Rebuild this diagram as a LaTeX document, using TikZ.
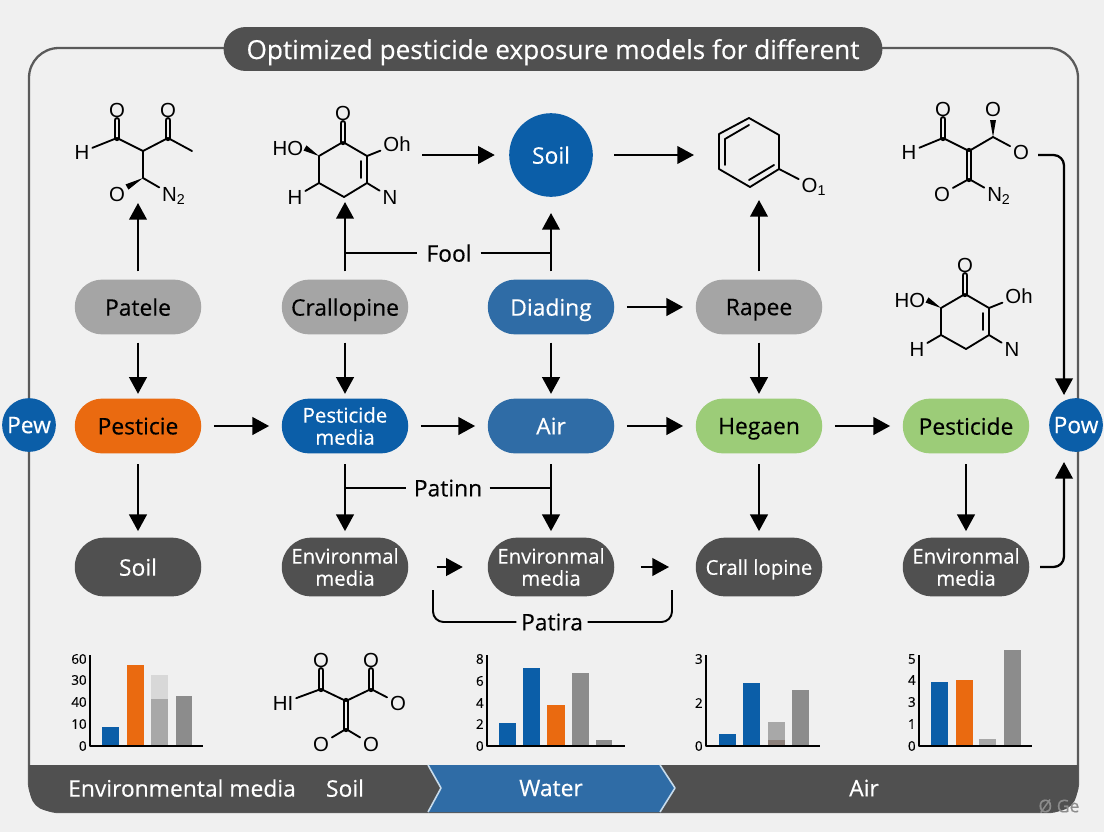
\documentclass[tikz,border=0pt]{standalone}
\usepackage{fontspec}
\setmainfont{Open Sans}[FakeBold=0.35]
\newfontfamily\atomfont{Liberation Sans}
\usetikzlibrary{calc,arrows.meta}
\definecolor{pagefill}{RGB}{240,240,240}
\definecolor{darkfill}{RGB}{80,80,80}
\definecolor{framecol}{RGB}{90,90,90}
\definecolor{bluefill}{RGB}{11,94,168}
\definecolor{midblue}{RGB}{47,108,166}
\definecolor{orangefill}{RGB}{234,106,16}
\definecolor{greenfill}{RGB}{156,204,120}
\definecolor{grayfill}{RGB}{165,165,165}
\definecolor{barmid}{RGB}{140,140,140}
\definecolor{barlight}{RGB}{168,168,168}
\definecolor{barpale}{RGB}{216,216,216}
\definecolor{barbrown}{RGB}{140,128,122}
\definecolor{edgeblue}{RGB}{200,220,236}
\tikzset{
    lab/.style={font=\fontsize{13}{15}\selectfont, text depth=0pt},
    atom/.style={font=\atomfont\fontsize{11.6}{13}\selectfont, inner sep=1.5pt},
    tick/.style={font=\fontsize{7.6}{9}\selectfont, anchor=east, inner sep=0pt},
    bond/.style={line width=1.05pt, line cap=round},
    dbl/.style={bond, double=pagefill, double distance=1.5pt},
    arr/.style={-{Triangle[length=9.5pt,width=10pt]}, line width=1.3pt},
    plain/.style={line width=1.1pt},
    gap/.style 2 args={shorten <=#1, shorten >=#2}
}
\newcommand{\wdgbond}[2]{\fill ($(#2)!1.7pt!90:(#1)$) -- ($(#2)!1.7pt!-90:(#1)$) -- (#1) -- cycle;}
% ring molecule, used twice
\newcommand{\ringmol}[3]{
  \begin{scope}[shift={(#2,#3)}, name prefix=#1]
    \coordinate (ca) at (343,142);
    \coordinate (cb) at (319,156);
    \coordinate (cc) at (319,183);
    \coordinate (cd) at (344,197);
    \coordinate (ce) at (367,183);
    \coordinate (cf) at (367,156);
    \coordinate (wd) at (305,148);
    \node[atom] (oa) at (343,113) {O};
    \node[atom] (ho) at (288,148) {HO};
    \node[atom] (oh) at (397,144) {Oh};
    \node[atom] (hh) at (295,197) {H};
    \node[atom] (nn) at (390,197) {N};
    \draw[dbl] (ca) -- (oa);
    \draw[bond] (ca) -- (cb) -- (cc) -- (cd) -- (ce) -- (cf) -- (ca);
    \draw[bond] (361,161) -- (361,178);
    \draw[bond] (cf) -- (oh);
    \draw[bond] (cc) -- (hh);
    \draw[bond] (ce) -- (nn);
    \wdgbond{cb}{wd}
  \end{scope}
}

\begin{document}
\begin{tikzpicture}[x=0.02cm,y=-0.02cm, line join=round]

% background
\fill[pagefill] (0,0) rectangle (1104,832);
\useasboundingbox (0,0) rectangle (1104,832);
\draw[framecol, line width=1.3pt, rounded corners=17pt] (29,48) rectangle (1078,812);

% title
\node[fill=darkfill, text=white, rounded corners=12.5pt, minimum width=375pt, minimum height=25pt, inner sep=0pt, text depth=0pt, font=\fontsize{14.9}{18}\selectfont] (title) at (553,49) {Optimized pesticide exposure models for different};

% bottom band
\fill[darkfill] (428,765) -- (29,765) -- (29,782) .. controls (29,804) and (37,812) .. (59,812) -- (428,812) -- (441,788) -- cycle;
\fill[midblue] (428,765) -- (660,765) -- (675,788) -- (660,812) -- (428,812) -- (441,788) -- cycle;
\fill[darkfill] (660,765) -- (1078,765) -- (1078,782) .. controls (1078,804) and (1070,812) .. (1048,812) -- (660,812) -- (675,788) -- cycle;
\draw[edgeblue, line width=0.9pt] (428,765) -- (441,788) -- (428,812);
\draw[edgeblue, line width=0.9pt] (660,765) -- (675,788) -- (660,812);
\node[lab, text=white] (bandenv) at (182,788) {Environmental media};
\node[lab, text=white] (bandsoil) at (345,788) {Soil};
\node[lab, text=white] (bandwater) at (551,788) {Water};
\node[lab, text=white] (bandair) at (864,788) {Air};
\node[text=barmid, font=\fontsize{10}{12}\selectfont] (mark) at (1059,806) {Ø Ge};

\tikzset{
  pill/.style={lab, rounded corners=15.6pt, minimum width=72pt, minimum height=31.2pt, inner sep=0pt, align=center},
  pillb/.style={pill, rounded corners=16.7pt, minimum height=33.4pt, fill=darkfill, text=white},
  twoline/.style={text depth=, font=\fontsize{11.6}{12.6}\selectfont},
  dot/.style={circle, fill=bluefill, text=white, inner sep=0pt, lab},
}

% nodes, upper row
\node[pill, fill=grayfill] (patele) at (138,307) {Patele};
\node[pill, fill=grayfill] (crall) at (345,307) {Crallopine};
\node[pill, fill=midblue, text=white] (diading) at (551,307) {Diading};
\node[pill, fill=grayfill] (rapee) at (759,307) {Rapee};

% nodes, middle row
\node[dot, minimum size=30.6pt] (pew) at (29,425) {Pew};
\node[pill, fill=orangefill] (pesticie) at (138,426) {Pesticie};
\node[pill, twoline, fill=bluefill, text=white] (pestmedia) at (345,426) {Pesticide\\media};
\node[pill, fill=midblue, text=white] (air) at (551,426) {Air};
\node[pill, fill=greenfill] (hegaen) at (759,426) {Hegaen};
\node[pill, fill=greenfill] (pestgreen) at (966,426) {Pesticide};
\node[dot, minimum size=30.6pt] (pow) at (1076,425) {Pow};

% nodes, lower row
\node[pillb] (soilb) at (138,567) {Soil};
\node[pillb, twoline] (enva) at (345,567) {Environmal\\media};
\node[pillb, twoline] (envb) at (551,567) {Environmal\\media};
\node[pillb, font=\fontsize{11.6}{13}\selectfont] (crallb) at (759,567) {Crall lopine};
\node[pillb, twoline] (envc) at (966,567) {Environmal\\media};

\node[dot, minimum size=47.6pt] (soil) at (551,155) {Soil};

% molecule, top left
\coordinate (ac) at (143,151);
\coordinate (ad) at (117,138);
\coordinate (ae) at (168,138);
\coordinate (af) at (192,151);
\coordinate (ag) at (143,178);
\coordinate (aw) at (127,187);
\node[atom] (ah) at (82,152) {H};
\node[atom] (ao) at (117,110) {O};
\node[atom] (ap) at (168,110) {O};
\node[atom] (aq) at (117,194) {O};
\node[atom] (an) at (174,196) {N\textsubscript{2}};
\draw[dbl] (ad) -- (ao);
\draw[dbl] (ae) -- (ap);
\draw[bond] (ah) -- (ad) -- (ac) -- (ae) -- (af);
\draw[bond] (ac) -- (ag) -- (an);
\wdgbond{ag}{aw}

% ring molecules
\ringmol{ra}{0}{0}
\ringmol{rb}{622}{152}

% benzene
\coordinate (ba) at (749,118);
\coordinate (bb) at (779,135);
\coordinate (bc) at (779,169);
\coordinate (bd) at (750,187);
\coordinate (be) at (719,169);
\coordinate (bf) at (719,134);
\node[atom] (bo) at (814,187) {O\textsubscript{1}};
\draw[bond] (ba) -- (bb) -- (bc) -- (bd) -- (be) -- (bf) -- cycle;
\draw[bond] (725,165) -- (725,139);
\draw[bond] (725,139) -- (749,125);
\draw[bond] (749,180) -- (774,165);
\draw[bond] (bc) -- (bo);

% molecule, top right
\coordinate (dc) at (969,151);
\coordinate (dd) at (943,138);
\coordinate (de) at (993,137);
\coordinate (df) at (969,179);
\coordinate (dw) at (993,120);
\node[atom] (dh) at (909,152) {H};
\node[atom] (do) at (943,109) {O};
\node[atom] (dp) at (993,109) {O};
\node[atom] (dq) at (1021,152) {O};
\node[atom] (dr) at (942,194) {O};
\node[atom] (dn) at (999,196) {N\textsubscript{2}};
\draw[dbl] (dd) -- (do);
\draw[dbl] (dc) -- (df);
\draw[bond] (dh) -- (dd) -- (dc) -- (de) -- (dq);
\draw[bond] (dr) -- (df) -- (dn);
\wdgbond{de}{dw}

% molecule, bottom
\coordinate (ec) at (346,701);
\coordinate (ed) at (321,689);
\coordinate (ee) at (371,689);
\coordinate (ef) at (346,729);
\node[atom] (eh) at (283,703) {HI};
\node[atom] (eo) at (321,660) {O};
\node[atom] (ep) at (371,660) {O};
\node[atom] (eq) at (398,703) {O};
\node[atom] (er) at (321,744) {O};
\node[atom] (es) at (371,744) {O};
\draw[dbl] (ed) -- (eo);
\draw[dbl] (ee) -- (ep);
\draw[dbl] (ec) -- (ef);
\draw[bond] (eh) -- (ed) -- (ec) -- (ee) -- (eq);
\draw[bond] (er) -- (ef) -- (es);

% free ends
\coordinate (pateleup) at (138,203);
\coordinate (crallup) at (345,202);
\coordinate (rapeeup) at (759,200);
\coordinate (ringout) at (422,155);
\coordinate (benzin) at (694,155);
\coordinate (diadup) at (551,213);
\coordinate (foolL) at (345,253);
\coordinate (foolR) at (551,253);
\coordinate (patL) at (345,488);
\coordinate (patR) at (551,488);
\coordinate (patiraL) at (433,590);
\coordinate (patiraR) at (672,590);
\coordinate (dout) at (1038,155);
\coordinate (powtop) at (1064,395);
\coordinate (powbot) at (1064,462);

% arrows up
\draw[arr, gap={4.5pt}{0pt}] (patele) -- (pateleup);
\draw[arr, gap={4.5pt}{0pt}] (crall) -- (crallup);
\draw[arr, gap={4.5pt}{0pt}] (diading) -- (diadup);
\draw[arr, gap={4.5pt}{0pt}] (rapee) -- (rapeeup);

% top lane
\draw[arr, gap={0pt}{8pt}] (ringout) -- (soil);
\draw[arr, gap={12pt}{0pt}] (soil) -- (benzin);
\draw[arr, gap={7pt}{7pt}] (diading) -- (rapee);

% upper row to middle row
\draw[arr, gap={4.5pt}{2.5pt}] (patele) -- (pesticie);
\draw[arr, gap={4.5pt}{2.5pt}] (crall) -- (pestmedia);
\draw[arr, gap={4.5pt}{2.5pt}] (diading) -- (air);
\draw[arr, gap={4.5pt}{2.5pt}] (rapee) -- (hegaen);

% middle lane
\draw[arr, gap={7pt}{7pt}] (pesticie) -- (pestmedia);
\draw[arr, gap={7pt}{7pt}] (pestmedia) -- (air);
\draw[arr, gap={7pt}{7pt}] (air) -- (hegaen);
\draw[arr, gap={7pt}{7pt}] (hegaen) -- (pestgreen);

% middle row to lower row
\draw[arr, gap={6pt}{3.5pt}] (pesticie) -- (soilb);
\draw[arr, gap={6pt}{3.5pt}] (pestmedia) -- (enva);
\draw[arr, gap={6pt}{3.5pt}] (air) -- (envb);
\draw[arr, gap={6pt}{3.5pt}] (hegaen) -- (crallb);
\draw[arr, gap={6pt}{3.5pt}] (pestgreen) -- (envc);

% lower lane
\draw[arr, gap={16pt}{14pt}] (enva) -- (envb);
\draw[arr, gap={15pt}{15pt}] (envb) -- (crallb);

% labelled links
\node[lab, inner sep=5pt] (fool) at (449,253) {Fool};
\node[lab, inner sep=4pt] (patinn) at (448,488) {Patinn};
\node[lab, inner sep=2.5pt] (patira) at (552,622) {Patira};
\draw[plain] (foolL) -- (fool);
\draw[plain] (fool) -- (foolR);
\draw[plain] (patL) -- (patinn);
\draw[plain] (patinn) -- (patR);
\draw[plain, rounded corners=6pt] (patiraL) |- (patira);
\draw[plain, rounded corners=6pt] (patira) -| (patiraR);

% right side
\draw[arr, rounded corners=6pt] (dout) -| (powtop);
\draw[arr, rounded corners=6pt, gap={6pt}{0pt}] (envc.east) -| (powbot);

% bars, first chart
\foreach \xa/\xb/\ytop/\barcol in {102/119/727/bluefill, 127/144/665/orangefill, 151/168/675/barpale, 151/168/699/barlight, 176/192/696/barmid}
  \fill[\barcol] (\xa,746) rectangle (\xb,\ytop);
\draw[line width=0.8pt] (90,655) -- (90,746) -- (203,746);
\foreach \yt/\txt in {659/60, 680/30, 702/40, 724/10, 746/0}
  \node[tick] (aax\yt) at (87,\yt) {\txt};

% bars, second chart
\foreach \xa/\xb/\ytop/\barcol in {499/516/723/bluefill, 523/540/668/bluefill, 547/565/705/orangefill, 572/589/673/barmid, 596/612/740/barmid}
  \fill[\barcol] (\xa,746) rectangle (\xb,\ytop);
\draw[line width=0.8pt] (487,655) -- (487,746) -- (625,746);
\foreach \yt/\txt in {659/8, 681/6, 703/4, 724/2, 746/0}
  \node[tick] (bax\yt) at (484,\yt) {\txt};

% bars, third chart
\foreach \xa/\xb/\ytop/\barcol in {719/736/734/bluefill, 743/760/683/bluefill, 768/785/722/barlight, 768/785/740/barbrown, 792/809/690/barmid}
  \fill[\barcol] (\xa,746) rectangle (\xb,\ytop);
\draw[line width=0.8pt] (706,655) -- (706,746) -- (820,746);
\foreach \yt/\txt in {659/3, 703/2, 746/0}
  \node[tick] (cax\yt) at (703,\yt) {\txt};

% bars, fourth chart
\foreach \xa/\xb/\ytop/\barcol in {931/948/682/bluefill, 956/973/680/orangefill, 979/996/739/barlight, 1004/1021/650/barmid}
  \fill[\barcol] (\xa,746) rectangle (\xb,\ytop);
\draw[line width=0.8pt] (919,655) -- (919,746) -- (1032,746);
\foreach \yt/\txt in {659/5, 680/4, 702/3, 724/1, 746/0}
  \node[tick] (dax\yt) at (916,\yt) {\txt};

\end{tikzpicture}
\end{document}
